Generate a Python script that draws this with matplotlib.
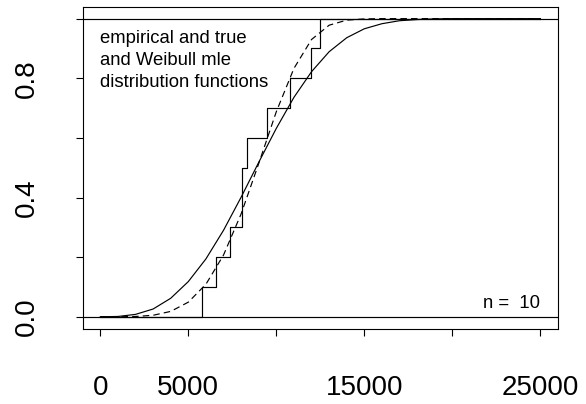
import numpy as np
import matplotlib
matplotlib.use("Agg")
import matplotlib.pyplot as plt

plt.rcParams["font.family"] = ["Liberation Sans", "DejaVu Sans"]

# sample jump points of the empirical cdf (n = 10, one tie)
sample = [5806, 6561, 7355, 8036, 8036, 8320, 9455, 10760, 11952, 12503]

# grid where both smooth curves were evaluated
grid = [0, 1000, 2000, 3000, 4000, 5000, 6000, 7000, 8000, 9000, 10000,
        11000, 12000, 13000, 14000, 15000, 16000, 17000, 18000, 19000,
        20000, 21000, 22000, 23000, 24000, 25000]
true_cdf = [0.0, 0.001, 0.008, 0.026, 0.062, 0.118, 0.194, 0.290, 0.401,
            0.518, 0.632, 0.736, 0.822, 0.889, 0.936, 0.966, 0.983, 0.993,
            0.997, 0.999, 1.0, 1.0, 1.0, 1.0, 1.0, 1.0]
mle_cdf = [0.0, 0.0, 0.001, 0.005, 0.018, 0.049, 0.109, 0.207, 0.345,
           0.514, 0.688, 0.833, 0.930, 0.978, 0.995, 0.999, 1.0, 1.0,
           1.0, 1.0, 1.0, 1.0, 1.0, 1.0, 1.0, 1.0]

x_ticks = [0, 5000, 10000, 15000, 20000, 25000]
x_labels = ["0", "5000", "", "15000", "", "25000"]
y_ticks = [0.0, 0.2, 0.4, 0.6, 0.8, 1.0]
y_labels = ["0.0", "", "0.4", "", "0.8", ""]

text_lines = ["empirical and true", "and Weibull mle", "distribution functions"]

fig = plt.figure(figsize=(5.86, 4.04), dpi=100)
ax = fig.add_axes([0.1411, 0.1864, 0.8111, 0.797])

# empirical cdf as a step function
xs = np.sort(np.array(sample, dtype=float))
ecdf_x = np.concatenate([[0.0], xs, [25000.0]])
ecdf_y = np.concatenate([[0.0], np.arange(1, len(xs) + 1) / len(xs), [1.0]])
ax.step(ecdf_x, ecdf_y, where="post", color="black", lw=0.85)

ax.plot(grid, true_cdf, color="black", lw=0.85)
ax.plot(grid, mle_cdf, color="black", lw=0.85, dashes=(5.5, 3.5))

ax.axhline(0, color="black", lw=0.85)
ax.axhline(1, color="black", lw=0.85)

ax.set_xlim(-1000, 26000)
ax.set_ylim(-0.04, 1.04)

ax.set_xticks(x_ticks)
ax.set_xticklabels(x_labels)
ax.set_yticks(y_ticks)
ax.set_yticklabels(y_labels, rotation=90, va="center")
ax.tick_params(axis="both", direction="out", length=5, width=0.8,
               labelsize=20)
ax.tick_params(axis="x", pad=28)
ax.tick_params(axis="y", pad=26)
for s in ax.spines.values():
    s.set_linewidth(0.8)

for i, line in enumerate(text_lines):
    ax.text(0, 0.918 - i * 0.074, line, fontsize=13.3, ha="left",
            va="baseline")
ax.text(25000, 0.030, "n =  10", fontsize=13.3, ha="right", va="baseline")

fig.savefig("out.png", dpi=100)
